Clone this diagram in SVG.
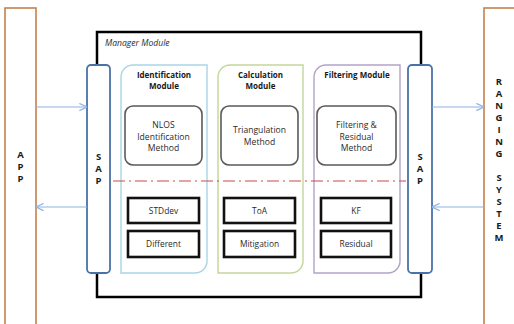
<svg xmlns="http://www.w3.org/2000/svg" width="514" height="324" viewBox="0 0 514 324">
  <defs>
    <style>
      .side { fill: #fff; stroke: #C8804A; stroke-width: 1.6; }
      .sap { fill: #fff; stroke: #4A72A8; stroke-width: 1.8; }
      .frame { fill: none; stroke: #000; stroke-width: 2.5; }
      .mod { fill: #fff; stroke-width: 1.4; }
      .meth { fill: #fff; stroke: #5a5a5a; stroke-width: 1.6; }
      .blk { fill: #fff; stroke: #111; stroke-width: 2.6; }
      .t { font-family: "Open Sans", "Liberation Sans", sans-serif; fill: #2a2a2a; text-anchor: middle; }
      .vt { font-family: "Open Sans", "Liberation Sans", sans-serif; font-weight: bold; font-size: 9.5px; fill: #1a1a1a; text-anchor: middle; }
      .title { font-weight: bold; font-size: 8px; fill: #1a1a1a; }
      .m { font-size: 8.6px; }
      .s { font-size: 8.4px; }
      .link { stroke: #8EB4E3; stroke-width: 1.2; fill: none; marker-end: url(#arr); }
    </style>
    <marker id="arr" viewBox="0 0 10 10" refX="9.5" refY="5" markerWidth="9" markerHeight="9" markerUnits="userSpaceOnUse" orient="auto">
      <path d="M1,1 L9.5,5 L1,9" fill="none" stroke="#8EB4E3" stroke-width="1.3"/>
    </marker>
  </defs>

  <!-- outer systems -->
  <g id="app">
    <rect class="side" x="5" y="8" width="31" height="330"/>
    <text class="vt" x="20.5" y="158">A</text>
    <text class="vt" x="20.5" y="170">P</text>
    <text class="vt" x="20.5" y="182">P</text>
  </g>
  <g id="ranging-system">
    <rect class="side" x="484" y="8" width="40" height="330"/>
    <text class="vt" x="499" y="85">R</text>
    <text class="vt" x="499" y="97">A</text>
    <text class="vt" x="499" y="109">N</text>
    <text class="vt" x="499" y="121">G</text>
    <text class="vt" x="499" y="133">I</text>
    <text class="vt" x="499" y="145">N</text>
    <text class="vt" x="499" y="157">G</text>
    <text class="vt" x="499" y="181">S</text>
    <text class="vt" x="499" y="193">Y</text>
    <text class="vt" x="499" y="205">S</text>
    <text class="vt" x="499" y="217">T</text>
    <text class="vt" x="499" y="229">E</text>
    <text class="vt" x="499" y="241">M</text>
  </g>

  <!-- manager frame -->
  <g id="manager-module">
    <rect class="frame" x="97" y="32" width="324" height="265"/>
    <text x="105" y="46" font-family="Open Sans, Liberation Sans, sans-serif" font-style="italic" font-size="8.6px" fill="#2a2a2a">Manager Module</text>
  </g>

  <!-- service access points -->
  <g id="sap-left">
    <rect class="sap" x="87" y="65" width="23" height="208" rx="4"/>
    <text class="vt" x="98.5" y="160">S</text>
    <text class="vt" x="98.5" y="172">A</text>
    <text class="vt" x="98.5" y="184">P</text>
  </g>
  <g id="sap-right">
    <rect class="sap" x="408" y="65" width="24" height="208" rx="4"/>
    <text class="vt" x="420" y="160">S</text>
    <text class="vt" x="420" y="172">A</text>
    <text class="vt" x="420" y="184">P</text>
  </g>

  <!-- identification module -->
  <g id="identification-module">
    <path class="mod" stroke="#A9D5E6" d="M133,65 H207 V261 A12,12 0 0 1 195,273 H121 V77 A12,12 0 0 1 133,65 Z"/>
    <text class="t title" x="164" y="78">Identification</text>
    <text class="t title" x="164" y="89">Module</text>
    <rect class="meth" x="125" y="106" width="77" height="59" rx="8"/>
    <text class="t m" x="163.5" y="128">NLOS</text>
    <text class="t m" x="163.5" y="140">Identification</text>
    <text class="t m" x="163.5" y="151">Method</text>
    <rect class="blk" x="128" y="198" width="71" height="25"/>
    <text class="t s" x="163.5" y="213.5">STDdev</text>
    <rect class="blk" x="128" y="231" width="71" height="26"/>
    <text class="t s" x="163.5" y="247">Different</text>
  </g>

  <!-- calculation module -->
  <g id="calculation-module">
    <path class="mod" stroke="#C3D69B" d="M230,65 H303 V261 A12,12 0 0 1 291,273 H218 V77 A12,12 0 0 1 230,65 Z"/>
    <text class="t title" x="260.5" y="78">Calculation</text>
    <text class="t title" x="260.5" y="89">Module</text>
    <rect class="meth" x="221" y="106" width="77" height="59" rx="8"/>
    <text class="t m" x="259.5" y="133">Triangulation</text>
    <text class="t m" x="259.5" y="145">Method</text>
    <rect class="blk" x="224" y="198" width="71" height="25"/>
    <text class="t s" x="259.5" y="213.5">ToA</text>
    <rect class="blk" x="224" y="231" width="71" height="26"/>
    <text class="t s" x="259.5" y="247">Mitigation</text>
  </g>

  <!-- filtering module -->
  <g id="filtering-module">
    <path class="mod" stroke="#B3A2C7" d="M326,65 H400 V261 A12,12 0 0 1 388,273 H314 V77 A12,12 0 0 1 326,65 Z"/>
    <text class="t title" x="357" y="78">Filtering Module</text>
    <rect class="meth" x="317" y="106" width="79" height="59" rx="8"/>
    <text class="t m" x="356.5" y="128">Filtering &amp;</text>
    <text class="t m" x="356.5" y="140">Residual</text>
    <text class="t m" x="356.5" y="151">Method</text>
    <rect class="blk" x="321" y="198" width="70" height="25"/>
    <text class="t s" x="356" y="213.5">KF</text>
    <rect class="blk" x="321" y="231" width="70" height="26"/>
    <text class="t s" x="356" y="247">Residual</text>
  </g>

  <!-- boundary between methods and algorithms -->
  <line x1="113" y1="181" x2="406" y2="181" stroke="#CC4A48" stroke-width="1.2" stroke-dasharray="12 4 2 4"/>

  <!-- connectors -->
  <g id="connectors">
    <line class="link" x1="36" y1="107" x2="87" y2="107"/>
    <line class="link" x1="87" y1="207" x2="36" y2="207"/>
    <line class="link" x1="432" y1="107" x2="484" y2="107"/>
    <line class="link" x1="484" y1="207" x2="432" y2="207"/>
  </g>
</svg>
